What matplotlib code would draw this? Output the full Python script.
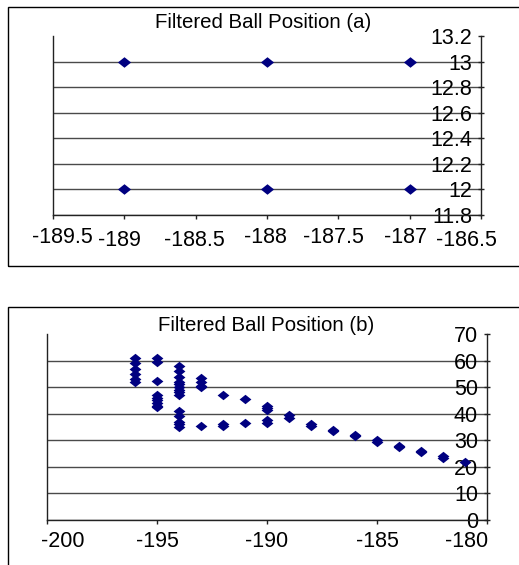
import matplotlib
matplotlib.use("Agg")
import matplotlib.pyplot as plt
from matplotlib.path import Path
from matplotlib.patches import Rectangle
from matplotlib.transforms import ScaledTranslation

plt.rcParams["font.family"] = ["Liberation Sans", "DejaVu Sans"]

# --- chart (a) ---
a_x = [-189, -188, -187, -189, -188, -187]
a_y = [13, 13, 13, 12, 12, 12]
a_xticks = [-189.5, -189, -188.5, -188, -187.5, -187, -186.5]
a_xlabels = ["-189.5", "-189", "-188.5", "-188", "-187.5", "-187", "-186.5"]
a_yticks = [11.8, 12, 12.2, 12.4, 12.6, 12.8, 13, 13.2]
a_ylabels = ["11.8", "12", "12.2", "12.4", "12.6", "12.8", "13", "13.2"]

# --- chart (b) ---
b_x = [-196, -196, -196, -196, -196, -196,
       -195, -195, -195, -195, -195, -195, -195, -195, -195,
       -194, -194, -194, -194, -194, -194, -194, -194, -194,
       -194, -194, -194, -194, -194,
       -193, -193, -193, -193, -193,
       -192, -192, -192,
       -191, -191,
       -190, -190, -190, -190, -190,
       -189, -189,
       -188, -188,
       -187, -187,
       -186, -186,
       -185, -185,
       -184, -184,
       -183, -183,
       -182, -182,
       -181]
b_y = [61, 59, 57, 55, 53, 52,
       61, 59.5, 52.5, 47, 46, 45, 44, 43, 42.5,
       58, 56, 54, 52, 51, 50, 49, 48, 47,
       41, 39, 37, 36, 35,
       53.5, 52, 50.5, 50, 35.5,
       47, 36, 35.5,
       45.5, 36.5,
       43, 42, 41.5, 37.5, 36.5,
       39.5, 38.5,
       36, 35.5,
       34, 33.5,
       32, 31.5,
       30, 29.5,
       28, 27.5,
       26, 25.5,
       24, 23.5,
       22]
b_xticks = [-200, -195, -190, -185, -180]
b_xlabels = ["-200", "-195", "-190", "-185", "-180"]
b_yticks = [0, 10, 20, 30, 40, 50, 60, 70]
b_ylabels = ["0", "10", "20", "30", "40", "50", "60", "70"]

W, H = 519, 565
fig = plt.figure(figsize=(W / 100, H / 100), dpi=100)

# slightly flattened diamond, like the spreadsheet marker
diamond = Path([(-1, 0), (0, 0.8), (1, 0), (0, -0.8), (-1, 0)],
               [Path.MOVETO, Path.LINETO, Path.LINETO, Path.LINETO, Path.CLOSEPOLY])
navy = "#000080"
TICK_FS = 15.5
TITLE_FS = 14.7


def px_axes(left, top, right, bottom):
    return fig.add_axes([left / W, 1 - bottom / H, (right - left) / W, (bottom - top) / H])


def style(ax, xticks, xlabels, yticks, ylabels, xpad, xshift):
    ax.set_xticks(xticks, xlabels)
    ax.set_yticks(yticks, ylabels)
    ax.set_xlim(xticks[0], xticks[-1])
    ax.set_ylim(yticks[0], yticks[-1])
    ax.set_axisbelow(True)
    ax.spines["top"].set_visible(False)
    for s in ("left", "bottom", "right"):
        ax.spines[s].set_color("#222222")
        ax.spines[s].set_linewidth(1)
    ax.yaxis.tick_right()
    ax.tick_params(axis="x", direction="out", length=3, width=1, color="#222222",
                   pad=xpad, labelsize=TICK_FS)
    ax.tick_params(axis="y", direction="inout", length=5, width=1, color="#222222",
                   pad=-9, labelsize=TICK_FS)
    ax.grid(axis="y", color="#4a4a4a", linewidth=1)
    ax.grid(axis="x", visible=False)
    ax.yaxis.get_major_ticks()[-1].gridline.set_visible(False)
    for lbl in ax.get_yticklabels():
        lbl.set_horizontalalignment("right")
    # nudge x tick labels the way the spreadsheet squeezes them in
    for lbl, (dx, dy) in zip(ax.get_xticklabels(), xshift):
        lbl.set_transform(lbl.get_transform() +
                          ScaledTranslation(dx / fig.dpi, dy / fig.dpi, fig.dpi_scale_trans))


# chart (a)
ax1 = px_axes(53, 36, 481, 215)
ax1.scatter(a_x, a_y, marker=diamond, s=9.5 ** 2, color=navy, linewidths=0, zorder=3,
            clip_on=False)
style(ax1, a_xticks, a_xlabels, a_yticks, a_ylabels, 6,
      [(9, 0), (-5, -3), (-1, -3), (-2, 0), (-5, 0), (-4, 0), (-15, -3)])

# chart (b)
ax2 = px_axes(46.7, 334, 487, 520)
ax2.scatter(b_x, b_y, marker=diamond, s=8.5 ** 2, color=navy, linewidths=0, zorder=3,
            clip_on=False)
style(ax2, b_xticks, b_xlabels, b_yticks, b_ylabels, 5,
      [(16, 0), (1, 0), (0, 0), (1, 0), (-20, 0)])

# titles
fig.text(263 / W, 1 - 28.5 / H, "Filtered Ball Position (a)", ha="center",
         va="baseline", fontsize=TITLE_FS)
fig.text(266 / W, 1 - 331 / H, "Filtered Ball Position (b)", ha="center",
         va="baseline", fontsize=TITLE_FS)

# chart area frames, running off the right edge
fig.patches.append(Rectangle((8 / W, 1 - 266 / H), 1.2, 259 / H, transform=fig.transFigure,
                             fill=False, edgecolor="black", linewidth=1))
fig.patches.append(Rectangle((8 / W, -0.1), 1.2, 0.1 + (1 - 307 / H),
                             transform=fig.transFigure, fill=False, edgecolor="black",
                             linewidth=1))

fig.savefig("out.png", dpi=100)
